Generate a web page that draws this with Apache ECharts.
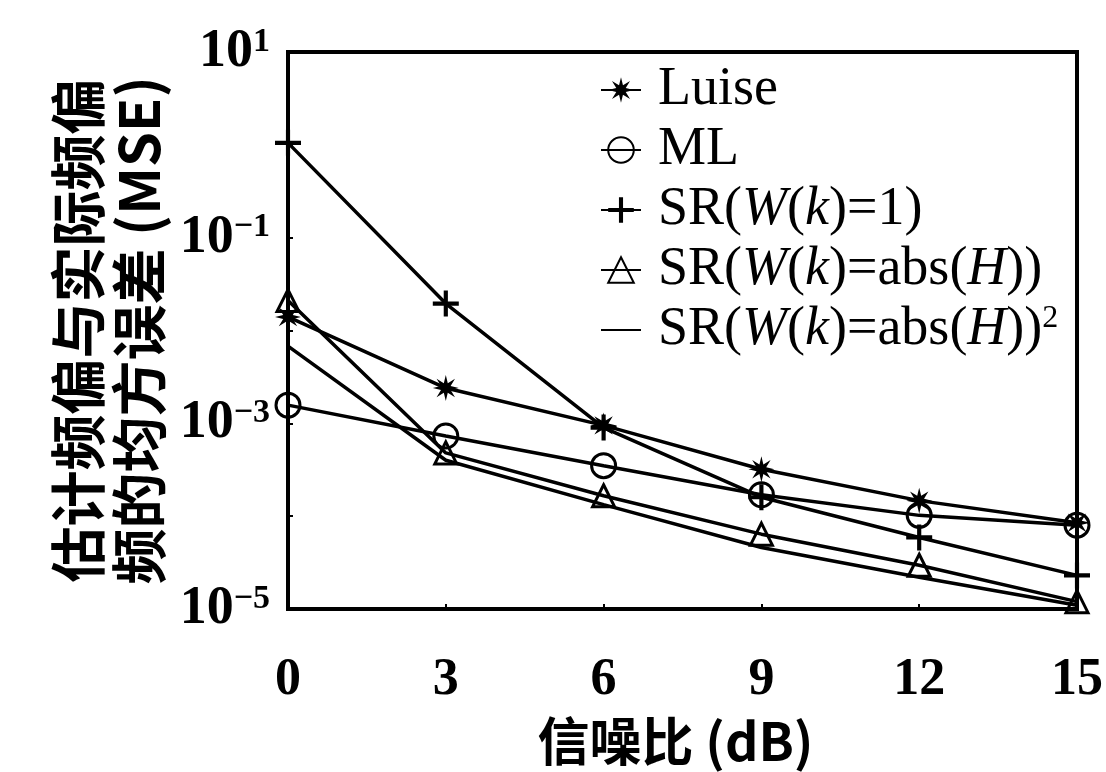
<!DOCTYPE html>
<html><head><meta charset="utf-8">
<script src="https://cdn.jsdelivr.net/npm/echarts@6/dist/echarts.min.js"></script>
<style>html,body{margin:0;padding:0;background:#fff}#c{width:1106px;height:772px}</style>
</head><body><div id="c"></div>
<script>
// ---- data ----
const snr = [0, 3, 6, 9, 12, 15];
const luise  = [0.014, 0.0024, 9.5e-4, 3.2e-4, 1.47e-4, 8.5e-5];
const ml     = [0.00157, 7.3e-4, 3.5e-4, 1.7e-4, 1.02e-4, 8.0e-5];
const sr1    = [1.05, 0.0195, 9.0e-4, 1.6e-4, 5.9e-5, 2.3e-5];
const srAbs  = [0.021, 4.8e-4, 1.66e-4, 6.4e-5, 2.96e-5, 1.2e-5];
const srAbs2 = [0.0068, 4.0e-4, 1.33e-4, 4.6e-5, 2.2e-5, 1.1e-5];
const seriesNames = ['Luise', 'ML', 'SR(W(k)=1)', 'SR(W(k)=abs(H))', 'SR(W(k)=abs(H))^2'];
const legendRich = {
  'Luise': '{r|Luise}',
  'ML': '{r|ML}',
  'SR(W(k)=1)': '{r|SR(}{i|W}{r|(}{i|k}{r|)=1)}',
  'SR(W(k)=abs(H))': '{r|SR(}{i|W}{r|(}{i|k}{r|)=abs(}{i|H}{r|))}',
  'SR(W(k)=abs(H))^2': '{r|SR(}{i|W}{r|(}{i|k}{r|)=abs(}{i|H}{r|))}{s|2}'
};
const yLabelExponents = [-5, -3, -1, 1];
const xTitle = '信噪比 (dB)';
const yTitle = '估计频偏与实际频偏\n频的均方误差 (MSE)';

// ---- styling helpers ----
function starPath(n, ro, ri) {
  let d = '';
  for (let i = 0; i < 2 * n; i++) {
    const r = i % 2 ? ri : ro;
    const a = Math.PI * i / n - Math.PI / 2;
    d += (i ? 'L' : 'M') + (r * Math.cos(a)).toFixed(2) + ',' + (r * Math.sin(a)).toFixed(2);
  }
  return 'path://' + d + 'Z';
}
const asterisk = starPath(8, 10, 4);
const plus = 'path://M-1.6,-10L1.6,-10L1.6,-1.6L10,-1.6L10,1.6L1.6,1.6L1.6,10L-1.6,10L-1.6,1.6L-10,1.6L-10,-1.6L-1.6,-1.6Z';
const SERIF = '"Liberation Serif", "Times New Roman", serif';
const CJK = '"Noto Sans CJK SC", sans-serif';
const LW = 3.5;

function mk(name, values, symbol, size, filled) {
  return {
    name: name, type: 'line',
    data: snr.map((x, i) => [x, values[i]]),
    symbol: symbol, symbolSize: size,
    lineStyle: { color: '#000', width: LW },
    itemStyle: filled ? { color: '#000', borderColor: '#000', borderWidth: 0 }
                      : { color: 'transparent', borderColor: '#000', borderWidth: 3 },
    emphasis: { disabled: true },
    animation: false, z: 3
  };
}

const series = [
  mk(seriesNames[0], luise, asterisk, 26, true),
  mk(seriesNames[1], ml, 'circle', 24, false),
  mk(seriesNames[2], sr1, plus, 26, true),
  mk(seriesNames[3], srAbs, 'triangle', 22, false),
  {
    name: seriesNames[4], type: 'line',
    data: snr.map((x, i) => [x, srAbs2[i]]),
    symbol: 'circle', showSymbol: false, symbolSize: 1,
    lineStyle: { color: '#000', width: LW },
    itemStyle: { color: 'transparent', borderColor: 'transparent', borderWidth: 0 },
    emphasis: { disabled: true }, animation: false, z: 3
  }
];

const chart = echarts.init(document.getElementById('c'), null, { renderer: 'canvas' });
chart.setOption({
  backgroundColor: '#fff',
  animation: false,
  grid: { left: 288, right: 26, top: 52, bottom: 160, show: true, borderColor: '#000', borderWidth: 4, backgroundColor: 'transparent' },
  legend: {
    data: seriesNames,
    orient: 'vertical',
    left: 595, top: 58,
    itemWidth: 40, itemHeight: 32, itemGap: 6,
    selectedMode: false,
    formatter: (n) => legendRich[n],
    textStyle: {
      color: '#000', padding: [0, 0, 0, 12],
      rich: {
        r: { fontFamily: SERIF, fontSize: 54, lineHeight: 54, color: '#000' },
        i: { fontFamily: SERIF, fontSize: 54, lineHeight: 54, fontStyle: 'italic', color: '#000' },
        s: { fontFamily: SERIF, fontSize: 32, lineHeight: 54, verticalAlign: 'top', padding: [0, 0, 22, 0], color: '#000' }
      }
    }
  },
  xAxis: {
    type: 'value', min: 0, max: 15, interval: 3,
    name: xTitle, nameLocation: 'middle', nameGap: 106,
    nameTextStyle: { fontFamily: CJK, fontSize: 52, fontWeight: 'bold', color: '#000', padding: [0, 14, 0, 0] },
    axisLine: { show: true, lineStyle: { color: '#000', width: 4 } },
    axisTick: { show: true, inside: true, length: 5, lineStyle: { color: '#000', width: 2 } },
    axisLabel: { fontFamily: SERIF, fontSize: 52, fontWeight: 'bold', color: '#000', margin: 46 },
    splitLine: { show: false }
  },
  yAxis: {
    type: 'log', logBase: 10, min: 1e-5, max: 10, splitNumber: 6,
    name: yTitle, nameLocation: 'middle', nameRotate: 90, nameGap: 108,
    nameTextStyle: { fontFamily: CJK, fontSize: 56, lineHeight: 61, fontWeight: 'bold', color: '#000', align: 'center' },
    axisLine: { show: true, lineStyle: { color: '#000', width: 4 } },
    axisTick: { show: true, inside: true, length: 5, lineStyle: { color: '#000', width: 2 } },
    splitLine: { show: false },
    axisLabel: {
      margin: 18,
      formatter: (v) => {
        const e = Math.round(Math.log10(v));
        if (yLabelExponents.indexOf(e) < 0) return '';
        return '{b|10}{s|' + (e < 0 ? '\u2212' : '') + Math.abs(e) + '}';
      },
      rich: {
        b: { fontFamily: SERIF, fontSize: 54, lineHeight: 54, fontWeight: 'bold', color: '#000' },
        s: { fontFamily: SERIF, fontSize: 34, lineHeight: 54, fontWeight: 'bold', verticalAlign: 'top', padding: [0, 0, 22, 0], color: '#000' }
      }
    }
  },
  series: series
});
</script>
</body></html>
